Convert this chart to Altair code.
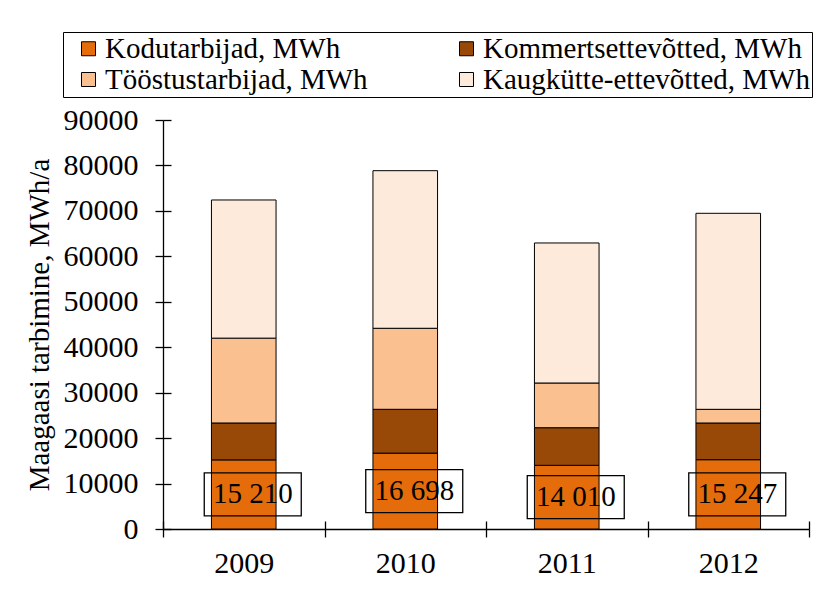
import altair as alt
import pandas as pd

years = ["2009", "2010", "2011", "2012"]
series = ["Kodutarbijad, MWh", "Kommertsettevõtted, MWh",
          "Tööstustarbijad, MWh", "Kaugkütte-ettevõtted, MWh"]
kodu = [15210, 16698, 14010, 15247]
kommerts = [8120, 9640, 8280, 8080]
toostus = [18670, 17830, 9840, 3010]
kaugkutte = [30400, 34680, 30810, 43130]
colors = ["#E46C0A", "#984807", "#FAC090", "#FDEADA"]
y_ticks = list(range(0, 90001, 10000))

rows = []
for i, yr in enumerate(years):
    for j, (s, vals) in enumerate(zip(series, [kodu, kommerts, toostus, kaugkutte])):
        rows.append({"year": yr, "series": s, "value": vals[i], "ord": j})
df = pd.DataFrame(rows)
lab = pd.DataFrame({"year": years, "kodu": kodu,
                    "label": [f"{v:,}".replace(",", " ") for v in kodu]})

# legend fills column by column: order the domain so rows read as in the original
legend_order = [series[0], series[2], series[1], series[3]]
legend_colors = [colors[0], colors[2], colors[1], colors[3]]

FONT = "Liberation Serif"
xscale = alt.Scale(domain=years, paddingInner=0, paddingOuter=0)
yscale = alt.Scale(domain=[0, 90000], nice=False)

bars = alt.Chart(df).mark_bar(
    stroke="black", strokeWidth=1, width=alt.RelativeBandSize(0.4)
).encode(
    x=alt.X("year:N", scale=xscale, sort=years,
            axis=alt.Axis(title=None, tickBand="extent", labelAngle=0, tickSize=8,
                          labelPadding=11)),
    y=alt.Y("value:Q", scale=yscale, stack="zero",
            axis=alt.Axis(title="Maagaasi tarbimine, MWh/a", values=y_ticks, format="d",
                          tickSize=8, labelPadding=17, titlePadding=9)),
    color=alt.Color("series:N", scale=alt.Scale(domain=legend_order, range=legend_colors),
                    legend=alt.Legend(title=None, orient="none", legendX=-100, legendY=-88,
                                      columns=2, strokeColor="black", padding=2,
                                      symbolOffset=9, columnPadding=75, rowPadding=1,
                                      labelFont=FONT, labelFontSize=29, labelLimit=500,
                                      labelOffset=2,
                                      symbolType="square", symbolSize=196,
                                      symbolStrokeColor="black", symbolStrokeWidth=1,
                                      symbolOpacity=1)),
    order=alt.Order("ord:Q", sort="ascending"),
)

boxes = alt.Chart(lab).transform_calculate(mid="datum.kodu / 2").mark_point(
    shape="M-1,-0.443L1,-0.443L1,0.443L-1,0.443Z", size=9409, filled=False,
    color="black", strokeWidth=1.3, opacity=1, xOffset=9
).encode(
    x=alt.X("year:N", scale=xscale, sort=years,
            axis=alt.Axis(orient="bottom", offset=-8, tickSize=8, labels=False,
                          domain=False, title=None, tickBand="extent")),
    y=alt.Y("mid:Q", scale=yscale,
            axis=alt.Axis(orient="left", offset=-8, tickSize=8, labels=False,
                          domain=False, title=None, values=y_ticks)),
)

texts = alt.Chart(lab).transform_calculate(mid="datum.kodu / 2").mark_text(
    font=FONT, fontSize=29, color="black", xOffset=9, baseline="middle"
).encode(
    x=alt.X("year:N", scale=xscale, sort=years, axis=None),
    y=alt.Y("mid:Q", scale=yscale, axis=None),
    text="label:N",
)

chart = alt.layer(bars, boxes, texts).resolve_scale(
    x="shared", y="shared"
).resolve_axis(
    x="independent", y="independent"
).properties(
    width=646, height=409,
    autosize=alt.AutoSizeParams(type="none"),
    padding={"left": 155, "top": 112, "right": 12, "bottom": 64},
    background="white",
).configure_view(stroke=None).configure_axis(
    labelFont=FONT, labelFontSize=30, labelColor="black",
    titleFont=FONT, titleFontSize=29, titleFontWeight="normal", titleColor="black",
    domainColor="black", tickColor="black", domainWidth=1.3, tickWidth=1.3, grid=False,
)

chart.save("out.html", embed_options={"renderer": "svg", "actions": False})
